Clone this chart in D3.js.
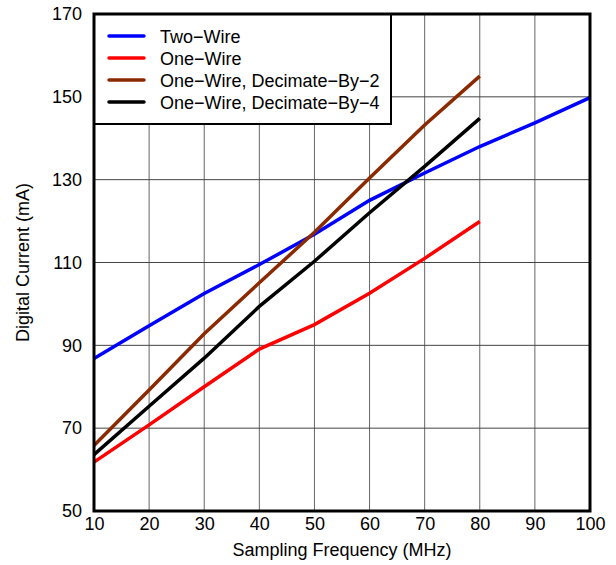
<!DOCTYPE html>
<html>
<head>
<meta charset="utf-8">
<script src="https://cdn.jsdelivr.net/npm/d3@7"></script>
<style>
  body { margin: 0; background: #fff; }
  text { font-family: Arial, "Liberation Sans", sans-serif; }
</style>
</head>
<body>
<div id="chart"></div>
<script>
      var freqs = [10, 20, 30, 40, 50, 60, 70, 80, 90, 100];
      var twoWire = [86.8, 94.7, 102.5, 109.5, 116.8, 125, 131.6, 138, 143.7, 149.8];
      var oneWire = [61.8, 70.8, 80, 89.1, 95, 102.6, 111, 119.9];
      var decim2 = [65.8, 79.2, 92.8, 105.1, 117.3, 130.4, 143.2, 155];
      var decim4 = [63.6, 75.3, 86.9, 99.4, 110.3, 122, 133.2, 144.8];
      var xTicks = [10, 20, 30, 40, 50, 60, 70, 80, 90, 100];
      var yTicks = [50, 70, 90, 110, 130, 150, 170];
      var seriesNames = ['Two\u2212Wire', 'One\u2212Wire', 'One\u2212Wire, Decimate\u2212By\u22122', 'One\u2212Wire, Decimate\u2212By\u22124'];
      var seriesColors = ['#0000ff', '#ff0000', '#8b2a00', '#000000'];

      var width = 616;
      var height = 565;
      var fs = 18;
      var margin = { top: 14, right: 26, bottom: 54, left: 94 };
      var svg = d3.select('#chart').append('svg')
                  .attr('width', width)
                  .attr('height', height);

      var x = d3.scaleLinear().domain([10, 100]).range([margin.left, width - margin.right]);
      var y = d3.scaleLinear().domain([50, 170]).range([height - margin.bottom, margin.top]);

      // grid
      svg.append('g').selectAll('line').data(xTicks.slice(1, -1)).enter().append('line')
         .attr('x1', function(d){ return x(d); }).attr('x2', function(d){ return x(d); })
         .attr('y1', y(50)).attr('y2', y(170))
         .attr('stroke', '#666').attr('stroke-width', 1);
      svg.append('g').selectAll('line').data(yTicks.slice(1, -1)).enter().append('line')
         .attr('y1', function(d){ return y(d); }).attr('y2', function(d){ return y(d); })
         .attr('x1', x(10)).attr('x2', x(100))
         .attr('stroke', '#444').attr('stroke-width', 1);

      // axes (labels only)
      var xAxis = svg.append('g')
         .attr('transform', 'translate(0,' + y(50) + ')')
         .call(d3.axisBottom(x).tickValues(xTicks).tickSize(0).tickPadding(6));
      var yAxis = svg.append('g')
         .attr('transform', 'translate(' + x(10) + ',0)')
         .call(d3.axisLeft(y).tickValues(yTicks).tickSize(0).tickPadding(12));
      [xAxis, yAxis].forEach(function(a){
        a.select('.domain').remove();
        a.selectAll('text').attr('font-size', fs).attr('fill', '#000')
         .style('font-family', 'Arial, "Liberation Sans", sans-serif');
      });

      // lines
      var line = d3.line()
                   .x(function(d){ return x(d[0]); })
                   .y(function(d){ return y(d[1]); });
      var allSeries = [twoWire, oneWire, decim2, decim4];
      allSeries.forEach(function(vals, i){
        var pts = vals.map(function(v, j){ return [freqs[j], v]; });
        svg.append('path').datum(pts)
           .attr('d', line)
           .attr('fill', 'none')
           .attr('stroke', seriesColors[i])
           .attr('stroke-width', 3.5);
      });

      // legend
      var lg = svg.append('g');
      lg.append('rect')
        .attr('x', x(10)).attr('y', y(170))
        .attr('width', 297).attr('height', 110)
        .attr('fill', '#fff').attr('stroke', '#000').attr('stroke-width', 2);
      seriesNames.forEach(function(name, i){
        var ly = y(170) + 22 + i * 22;
        lg.append('line')
          .attr('x1', x(10) + 15).attr('x2', x(10) + 50)
          .attr('y1', ly).attr('y2', ly)
          .attr('stroke', seriesColors[i]).attr('stroke-width', 3.5)
          .attr('stroke-linecap', 'round');
        lg.append('text')
          .attr('x', x(10) + 66).attr('y', ly + 6.5)
          .attr('font-size', fs).text(name);
      });

      // frame
      svg.append('rect')
         .attr('x', x(10)).attr('y', y(170))
         .attr('width', x(100) - x(10)).attr('height', y(50) - y(170))
         .attr('fill', 'none').attr('stroke', '#000').attr('stroke-width', 3);

      // titles
      svg.append('text')
         .attr('x', (x(10) + x(100)) / 2).attr('y', 556)
         .attr('text-anchor', 'middle').attr('font-size', fs)
         .text('Sampling Frequency (MHz)');
      svg.append('text')
         .attr('transform', 'translate(29,' + ((y(50) + y(170)) / 2) + ') rotate(-90)')
         .attr('text-anchor', 'middle').attr('font-size', fs)
         .text('Digital Current (mA)');
</script>
</body>
</html>
